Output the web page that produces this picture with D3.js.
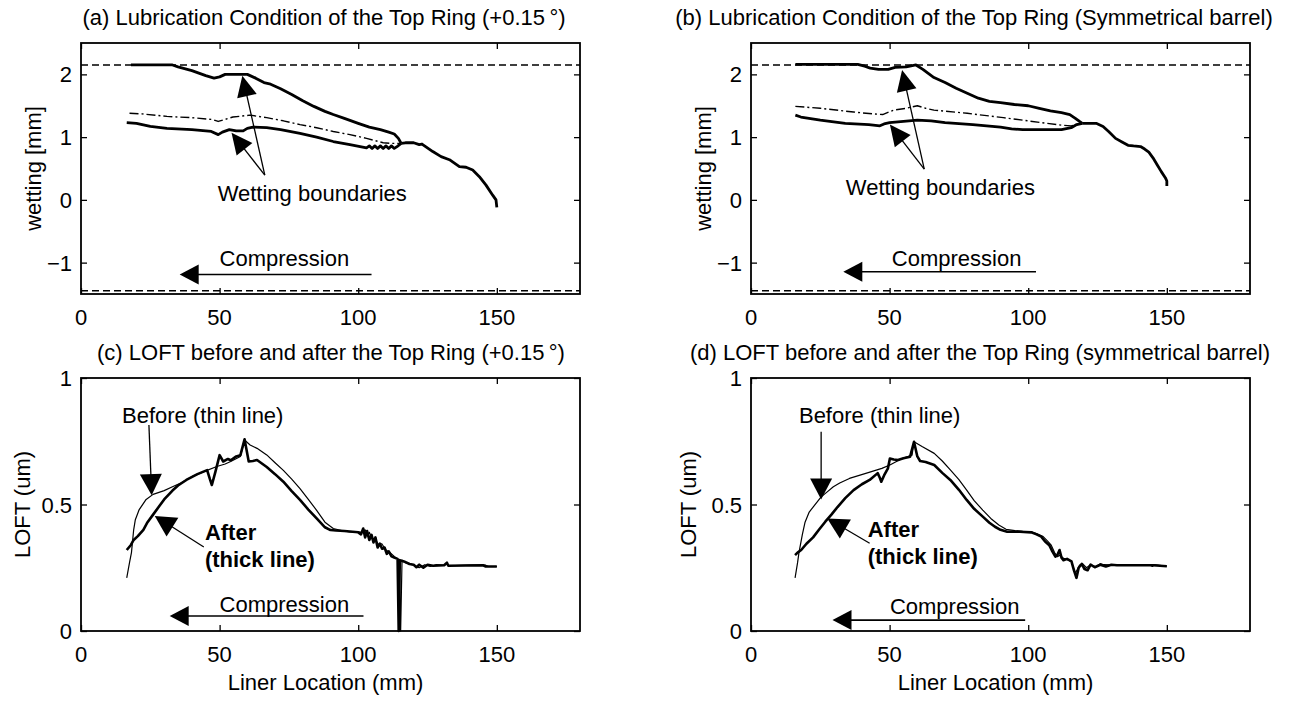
<!DOCTYPE html>
<html><head><meta charset="utf-8">
<script src="https://cdn.jsdelivr.net/npm/d3@7"></script>
<style>
html,body{margin:0;padding:0;background:#fff;}
svg text{font-family:"Liberation Sans",Arial,Helvetica,sans-serif;font-size:22px;fill:#000;}
</style></head>
<body><svg id="chart" width="1292" height="701"></svg>
<script>
// ---------- DATA ----------
const xTicks = [0, 50, 100, 150];
const wettingTicks = [-1, 0, 1, 2];
const loftTicks = [0, 0.5, 1];
const xDomain = [0, 180];
const wettingDomain = [-1.5, 2.5];
const loftDomain = [0, 1];
const wettingLimits = [2.15, -1.45];   // dashed boundary levels

// (a) +0.15 deg
const aUpper = [[18,2.15],[33,2.15],[35,2.12],[40,2.06],[45,1.98],[48,1.94],[50,1.96],[52,2.0],[60,2.0],[63,1.94],[66,1.87],[68,1.85],[72,1.77],[76,1.68],[80,1.58],[84,1.49],[88,1.41],[91,1.36],[95,1.3],[100,1.22],[104,1.16],[108,1.12],[111,1.08],[113,1.05],[114.5,0.98],[115.5,0.9]];
const aTail = [[115.5,0.9],[117,0.91],[120,0.91],[122,0.88],[123,0.89],[126.9,0.77],[129.9,0.69],[132.9,0.64],[136.5,0.53],[138.9,0.52],[141.3,0.475],[143.7,0.37],[146.1,0.235],[148.5,0.075],[149.7,0.0],[150,-0.12]];
const aLower = [[16.5,1.23],[20,1.22],[25,1.17],[31,1.14],[40,1.12],[47,1.09],[49.5,1.04],[51,1.08],[53.5,1.12],[56,1.1],[58.5,1.1],[60,1.14],[62,1.16],[67,1.15],[72,1.12],[79,1.06],[85,1.0],[91,0.93],[97,0.88],[103,0.83],[104,0.86],[105,0.82],[106,0.86],[107,0.82],[108,0.86],[109,0.82],[110,0.86],[111,0.82],[112,0.86],[113,0.82],[114,0.85],[115.5,0.9]];
const aDashDot = [[17.5,1.38],[22,1.37],[31,1.33],[40,1.31],[47.5,1.28],[49.5,1.25],[54.8,1.32],[61,1.35],[67,1.31],[73,1.26],[79,1.2],[85,1.15],[91,1.09],[97,1.04],[103,0.98],[109,0.91],[112,0.9],[115.5,0.9]];

// (b) symmetrical barrel
const bUpper = [[16,2.16],[38.5,2.16],[41,2.13],[43,2.1],[46,2.08],[49.5,2.08],[52,2.11],[56,2.12],[59.5,2.15],[62,2.08],[66,1.95],[70,1.87],[74,1.78],[78,1.7],[82,1.62],[86,1.57],[90,1.55],[95,1.52],[100,1.5],[104,1.46],[108,1.42],[112,1.39],[115,1.36],[117,1.3],[118.5,1.25],[119.5,1.22]];
const bTail = [[119.5,1.22],[122,1.22],[124.5,1.22],[127,1.17],[129,1.09],[131.5,0.98],[134,0.92],[136,0.87],[138,0.86],[140.5,0.85],[142,0.81],[143.5,0.76],[145,0.67],[146.5,0.56],[148,0.45],[149.5,0.35],[150,0.3],[150,0.22]];
const bLower = [[16,1.35],[18,1.32],[25,1.27],[34,1.22],[42.5,1.2],[46.5,1.18],[48,1.21],[50,1.23],[60,1.27],[65,1.26],[70,1.23],[80,1.2],[90,1.16],[94,1.13],[98,1.12],[112,1.12],[115.5,1.15],[117.5,1.2],[119.5,1.22]];
const bDashDot = [[16,1.49],[25,1.46],[37,1.4],[44,1.37],[47.5,1.36],[51.5,1.43],[56,1.46],[60,1.5],[63,1.46],[66,1.43],[78,1.38],[91,1.31],[105,1.23],[112,1.19],[115.5,1.18],[119.5,1.22]];

// (c) LOFT +0.15 deg
const cBefore = [[16.5,0.21],[17.5,0.27],[18.2,0.31],[19,0.4],[19.6,0.44],[21,0.48],[23.5,0.52],[26,0.54],[30,0.555],[33,0.57],[36,0.585],[40,0.61],[45,0.633],[49,0.65],[52,0.66],[54,0.67],[57.5,0.69],[59,0.755],[61,0.735],[63.5,0.722],[67,0.696],[70,0.665],[73,0.635],[76,0.6],[79,0.563],[82,0.52],[85,0.477],[88,0.43],[91,0.405],[94,0.397],[97,0.392],[100,0.392],[101.5,0.39],[102.5,0.4],[103.3,0.375],[104,0.39],[105,0.365],[106.5,0.355],[107.5,0.34],[108.5,0.345],[110,0.32],[111.5,0.31],[113,0.295],[114.8,0.28],[115.3,0.0],[115.8,0.28],[117,0.27],[118.5,0.265],[120,0.26],[122,0.25],[124,0.262],[126,0.255],[128,0.262],[131,0.26],[132,0.268],[132.5,0.258],[140,0.26],[146,0.26],[147,0.255],[150,0.255]];
const cAfter = [[16.5,0.32],[18,0.34],[19,0.36],[20.5,0.375],[22.5,0.4],[24,0.43],[26,0.46],[28,0.49],[30,0.52],[33,0.555],[35,0.575],[38,0.597],[42,0.62],[45.5,0.636],[46.5,0.6],[47.2,0.577],[48.5,0.63],[50,0.695],[51.3,0.67],[53,0.68],[54,0.675],[56,0.69],[57.5,0.695],[59,0.758],[60.5,0.67],[62,0.672],[63.5,0.676],[67,0.648],[70,0.62],[73,0.59],[76,0.553],[79,0.518],[82,0.48],[85,0.445],[88,0.41],[90,0.399],[92,0.397],[95,0.395],[98,0.392],[100,0.39],[101,0.382],[101.8,0.405],[102.5,0.37],[103.2,0.395],[104,0.36],[104.8,0.38],[105.5,0.35],[106.2,0.37],[107,0.33],[107.8,0.345],[108.6,0.325],[109.5,0.33],[110.3,0.305],[111,0.315],[112,0.295],[113,0.29],[114.2,0.285],[114.6,0.0],[115,0.28],[116.5,0.275],[118.5,0.265],[120,0.262],[121,0.252],[122,0.262],[123.5,0.25],[125,0.262],[127,0.258],[131,0.26],[132,0.27],[132.5,0.258],[145,0.26],[146,0.255],[150,0.255]];

// (d) LOFT symmetrical barrel
const dBefore = [[15.9,0.21],[16.8,0.27],[17.3,0.31],[18.5,0.38],[19.5,0.43],[21,0.47],[22.4,0.49],[25.3,0.53],[27.5,0.55],[29.7,0.57],[32,0.585],[35.5,0.603],[41.4,0.623],[47.2,0.643],[50.1,0.656],[54.5,0.682],[58.1,0.695],[58.8,0.748],[61.7,0.729],[66.1,0.702],[69,0.672],[71.9,0.637],[75,0.598],[77.8,0.557],[80.5,0.515],[83.6,0.478],[86.5,0.445],[89.4,0.419],[92,0.402],[95.2,0.397],[98,0.394],[101,0.392],[103,0.385],[105.4,0.373],[107,0.355],[108.3,0.339],[109.5,0.31],[110.5,0.294],[111.5,0.3],[112.7,0.287],[114,0.283],[115.6,0.274],[117,0.228],[118.5,0.26],[119.5,0.267],[121,0.25],[122.5,0.262],[124.4,0.254],[126,0.266],[127.3,0.262],[131.6,0.26],[144,0.26],[144.8,0.255],[145.5,0.262],[150,0.256]];
const dAfter = [[15.9,0.3],[16.8,0.31],[18.1,0.32],[20,0.345],[22.4,0.37],[24.5,0.4],[26.8,0.432],[29,0.46],[31.2,0.49],[34,0.525],[37,0.557],[40,0.58],[42.8,0.597],[45.7,0.624],[46.5,0.605],[47,0.59],[48,0.615],[49.4,0.643],[50.1,0.682],[51.5,0.678],[53,0.676],[55,0.683],[57.4,0.689],[58.8,0.748],[60,0.69],[61,0.672],[63,0.668],[66.1,0.656],[69,0.625],[71.9,0.597],[75,0.558],[77.8,0.518],[80.5,0.483],[83.6,0.452],[86,0.428],[88,0.412],[90,0.4],[92.4,0.392],[97,0.392],[101.1,0.39],[103,0.382],[104.7,0.373],[106,0.355],[107.6,0.339],[108.7,0.315],[109.8,0.294],[110.5,0.3],[111.3,0.32],[112,0.29],[112.7,0.28],[114,0.285],[115.6,0.275],[116.5,0.24],[117.4,0.21],[118.2,0.25],[119.3,0.265],[120.3,0.245],[121.4,0.24],[122.5,0.262],[124,0.252],[126,0.262],[128,0.255],[130,0.262],[132,0.26],[145,0.26],[150,0.256]];

// annotations (data coordinates)
const aWetArrows = {tail:[66.3,0.395], tips:[[58.2,1.98],[54.3,1.07]], text:[49.3,-0.02]};
const bWetArrows = {tail:[62.5,0.49], tips:[[54.5,2.07],[50.1,1.2]], text:[34.2,0.07]};
const aCompression = {tail:[104.8,-1.19], tip:[35.6,-1.19], text:[50,-1.06]};
const bCompression = {tail:[102.8,-1.145], tip:[33.3,-1.145], text:[50.8,-1.05]};
const cCompression = {tail:[101.9,0.059], tip:[32,0.059], text:[50,0.076]};
const dCompression = {tail:[98.9,0.043], tip:[29.4,0.043], text:[50.1,0.067]};
const cBeforeNote = {tail:[24.5,0.814], tip:[25.5,0.537], text:[14.8,0.822]};
const dBeforeNote = {tail:[25.3,0.788], tip:[25.3,0.52], text:[17.3,0.823]};
const cAfterNote = {tail:[44.3,0.332], tip:[26.6,0.455], text:[44.7,0.36], text2:[44.7,0.254]};
const dAfterNote = {tail:[42.8,0.347], tip:[27.5,0.445], text:[42.1,0.373], text2:[42.1,0.265]};

const titles = {
  a: "(a) Lubrication Condition of the Top Ring (+0.15\u2009°)",
  b: "(b) Lubrication Condition of the Top Ring (Symmetrical barrel)",
  c: "(c) LOFT before and after the Top Ring (+0.15\u2009°)",
  d: "(d) LOFT before and after the Top Ring (symmetrical barrel)"
};

// ---------- DRAW ----------
const svg = d3.select("#chart");
const fmt = d3.format("~g");

function makePanel(box, yDomain, yTicks, title, titleX, yLabel, ylabOff, xLabel) {
  const g = svg.append("g");
  const x = d3.scaleLinear().domain(xDomain).range([box.l, box.r]);
  const y = d3.scaleLinear().domain(yDomain).range([box.b, box.t]);
  const tl = 6;
  // inward ticks on all four sides
  const axB = d3.axisTop(x).tickValues(xTicks).tickSize(tl).tickFormat("");
  const axT = d3.axisBottom(x).tickValues(xTicks).tickSize(tl).tickFormat("");
  const axL = d3.axisRight(y).tickValues(yTicks).tickSize(tl).tickFormat("");
  const axR = d3.axisLeft(y).tickValues(yTicks).tickSize(tl).tickFormat("");
  [[axB,`translate(0,${box.b})`],[axT,`translate(0,${box.t})`],[axL,`translate(${box.l},0)`],[axR,`translate(${box.r},0)`]].forEach(([ax,tr])=>{
    const a = g.append("g").attr("transform",tr).call(ax);
    a.select(".domain").remove();
    a.selectAll("line").attr("stroke","#000").attr("stroke-width",1.3);
  });
  g.append("rect").attr("x",box.l).attr("y",box.t).attr("width",box.r-box.l).attr("height",box.b-box.t)
    .attr("fill","none").attr("stroke","#000").attr("stroke-width",1.8);
  // tick labels
  g.selectAll(".xl").data(xTicks).join("text").attr("x",d=>x(d)).attr("y",box.b+31)
    .attr("text-anchor","middle").text(d=>fmt(d));
  g.selectAll(".yl").data(yTicks).join("text").attr("x",box.l-9).attr("y",d=>y(d)+8)
    .attr("text-anchor","end").text(d=>fmt(d));
  g.append("text").attr("x",titleX).attr("y",box.t-18).attr("text-anchor","middle").text(title);
  g.append("text").attr("transform",`translate(${box.l-ylabOff},${(box.t+box.b)/2}) rotate(-90)`)
    .attr("text-anchor","middle").attr("dy","0.35em").text(yLabel);
  if (xLabel) g.append("text").attr("x",(box.l+box.r)/2-5).attr("y",box.b+59).attr("text-anchor","middle").text(xLabel);
  return {g,x,y};
}

function line(p, data, width, dash) {
  const gen = d3.line().x(d=>p.x(d[0])).y(d=>p.y(d[1]));
  const path = p.g.append("path").attr("d",gen(data)).attr("fill","none").attr("stroke","#000")
    .attr("stroke-width",width).attr("stroke-linejoin","round");
  if (dash) path.attr("stroke-dasharray",dash);
  return path;
}

function arrow(p, tail, tip, shaftW, headLen, headHalf) {
  const x0=p.x(tail[0]), y0=p.y(tail[1]), x1=p.x(tip[0]), y1=p.y(tip[1]);
  const dx=x1-x0, dy=y1-y0, L=Math.hypot(dx,dy), ux=dx/L, uy=dy/L;
  const bx=x1-ux*headLen, by=y1-uy*headLen;
  p.g.append("line").attr("x1",x0).attr("y1",y0).attr("x2",bx+ux*2).attr("y2",by+uy*2)
    .attr("stroke","#000").attr("stroke-width",shaftW);
  p.g.append("polygon").attr("points",[[x1,y1],[bx-uy*headHalf,by+ux*headHalf],[bx+uy*headHalf,by-ux*headHalf]].map(q=>q.join(",")).join(" "))
    .attr("fill","#000");
}

function note(p, pos, str, bold) {
  const t = p.g.append("text").attr("x",p.x(pos[0])).attr("y",p.y(pos[1])).text(str);
  if (bold) t.attr("font-weight","bold");
}

const boxA = {l:81,r:580,t:43,b:294}, boxB = {l:751,r:1250,t:43,b:294};
const boxC = {l:81,r:580,t:378,b:631}, boxD = {l:751,r:1250,t:378,b:631};

// wetting panels
[[boxA,titles.a,324,aUpper,aTail,aLower,aDashDot,aWetArrows,aCompression],
 [boxB,titles.b,974,bUpper,bTail,bLower,bDashDot,bWetArrows,bCompression]].forEach(([box,title,tx,up,tail,low,dd,wa,comp])=>{
  const p = makePanel(box, wettingDomain, wettingTicks, title, tx, "wetting [mm]", 48, null);
  wettingLimits.forEach(v=>line(p,[[xDomain[0],v],[xDomain[1],v]],1.5,"7,4"));
  line(p, dd, 1.4, "9,3,2,3");
  line(p, up, 2.8);
  line(p, tail, 2.8);
  line(p, low, 2.8);
  wa.tips.forEach(t=>arrow(p, wa.tail, t, 1.3, 21, 10));
  note(p, wa.text, "Wetting boundaries");
  arrow(p, comp.tail, comp.tip, 1.6, 19, 10);
  note(p, comp.text, "Compression");
});

// LOFT panels
[[boxC,titles.c,331,cBefore,cAfter,cBeforeNote,cAfterNote,cCompression,59],
 [boxD,titles.d,980,dBefore,dAfter,dBeforeNote,dAfterNote,dCompression,63]].forEach(([box,title,tx,bef,aft,bn,an,comp,yo])=>{
  const p = makePanel(box, loftDomain, loftTicks, title, tx, "LOFT (um)", yo, "Liner Location (mm)");
  line(p, bef, 1.2);
  line(p, aft, 2.6);
  arrow(p, bn.tail, bn.tip, 1.3, 21, 11);
  note(p, bn.text, "Before (thin line)");
  arrow(p, an.tail, an.tip, 1.3, 21, 11);
  note(p, an.text, "After", true);
  note(p, an.text2, "(thick line)", true);
  arrow(p, comp.tail, comp.tip, 1.6, 19, 10);
  note(p, comp.text, "Compression");
});
</script></body></html>
